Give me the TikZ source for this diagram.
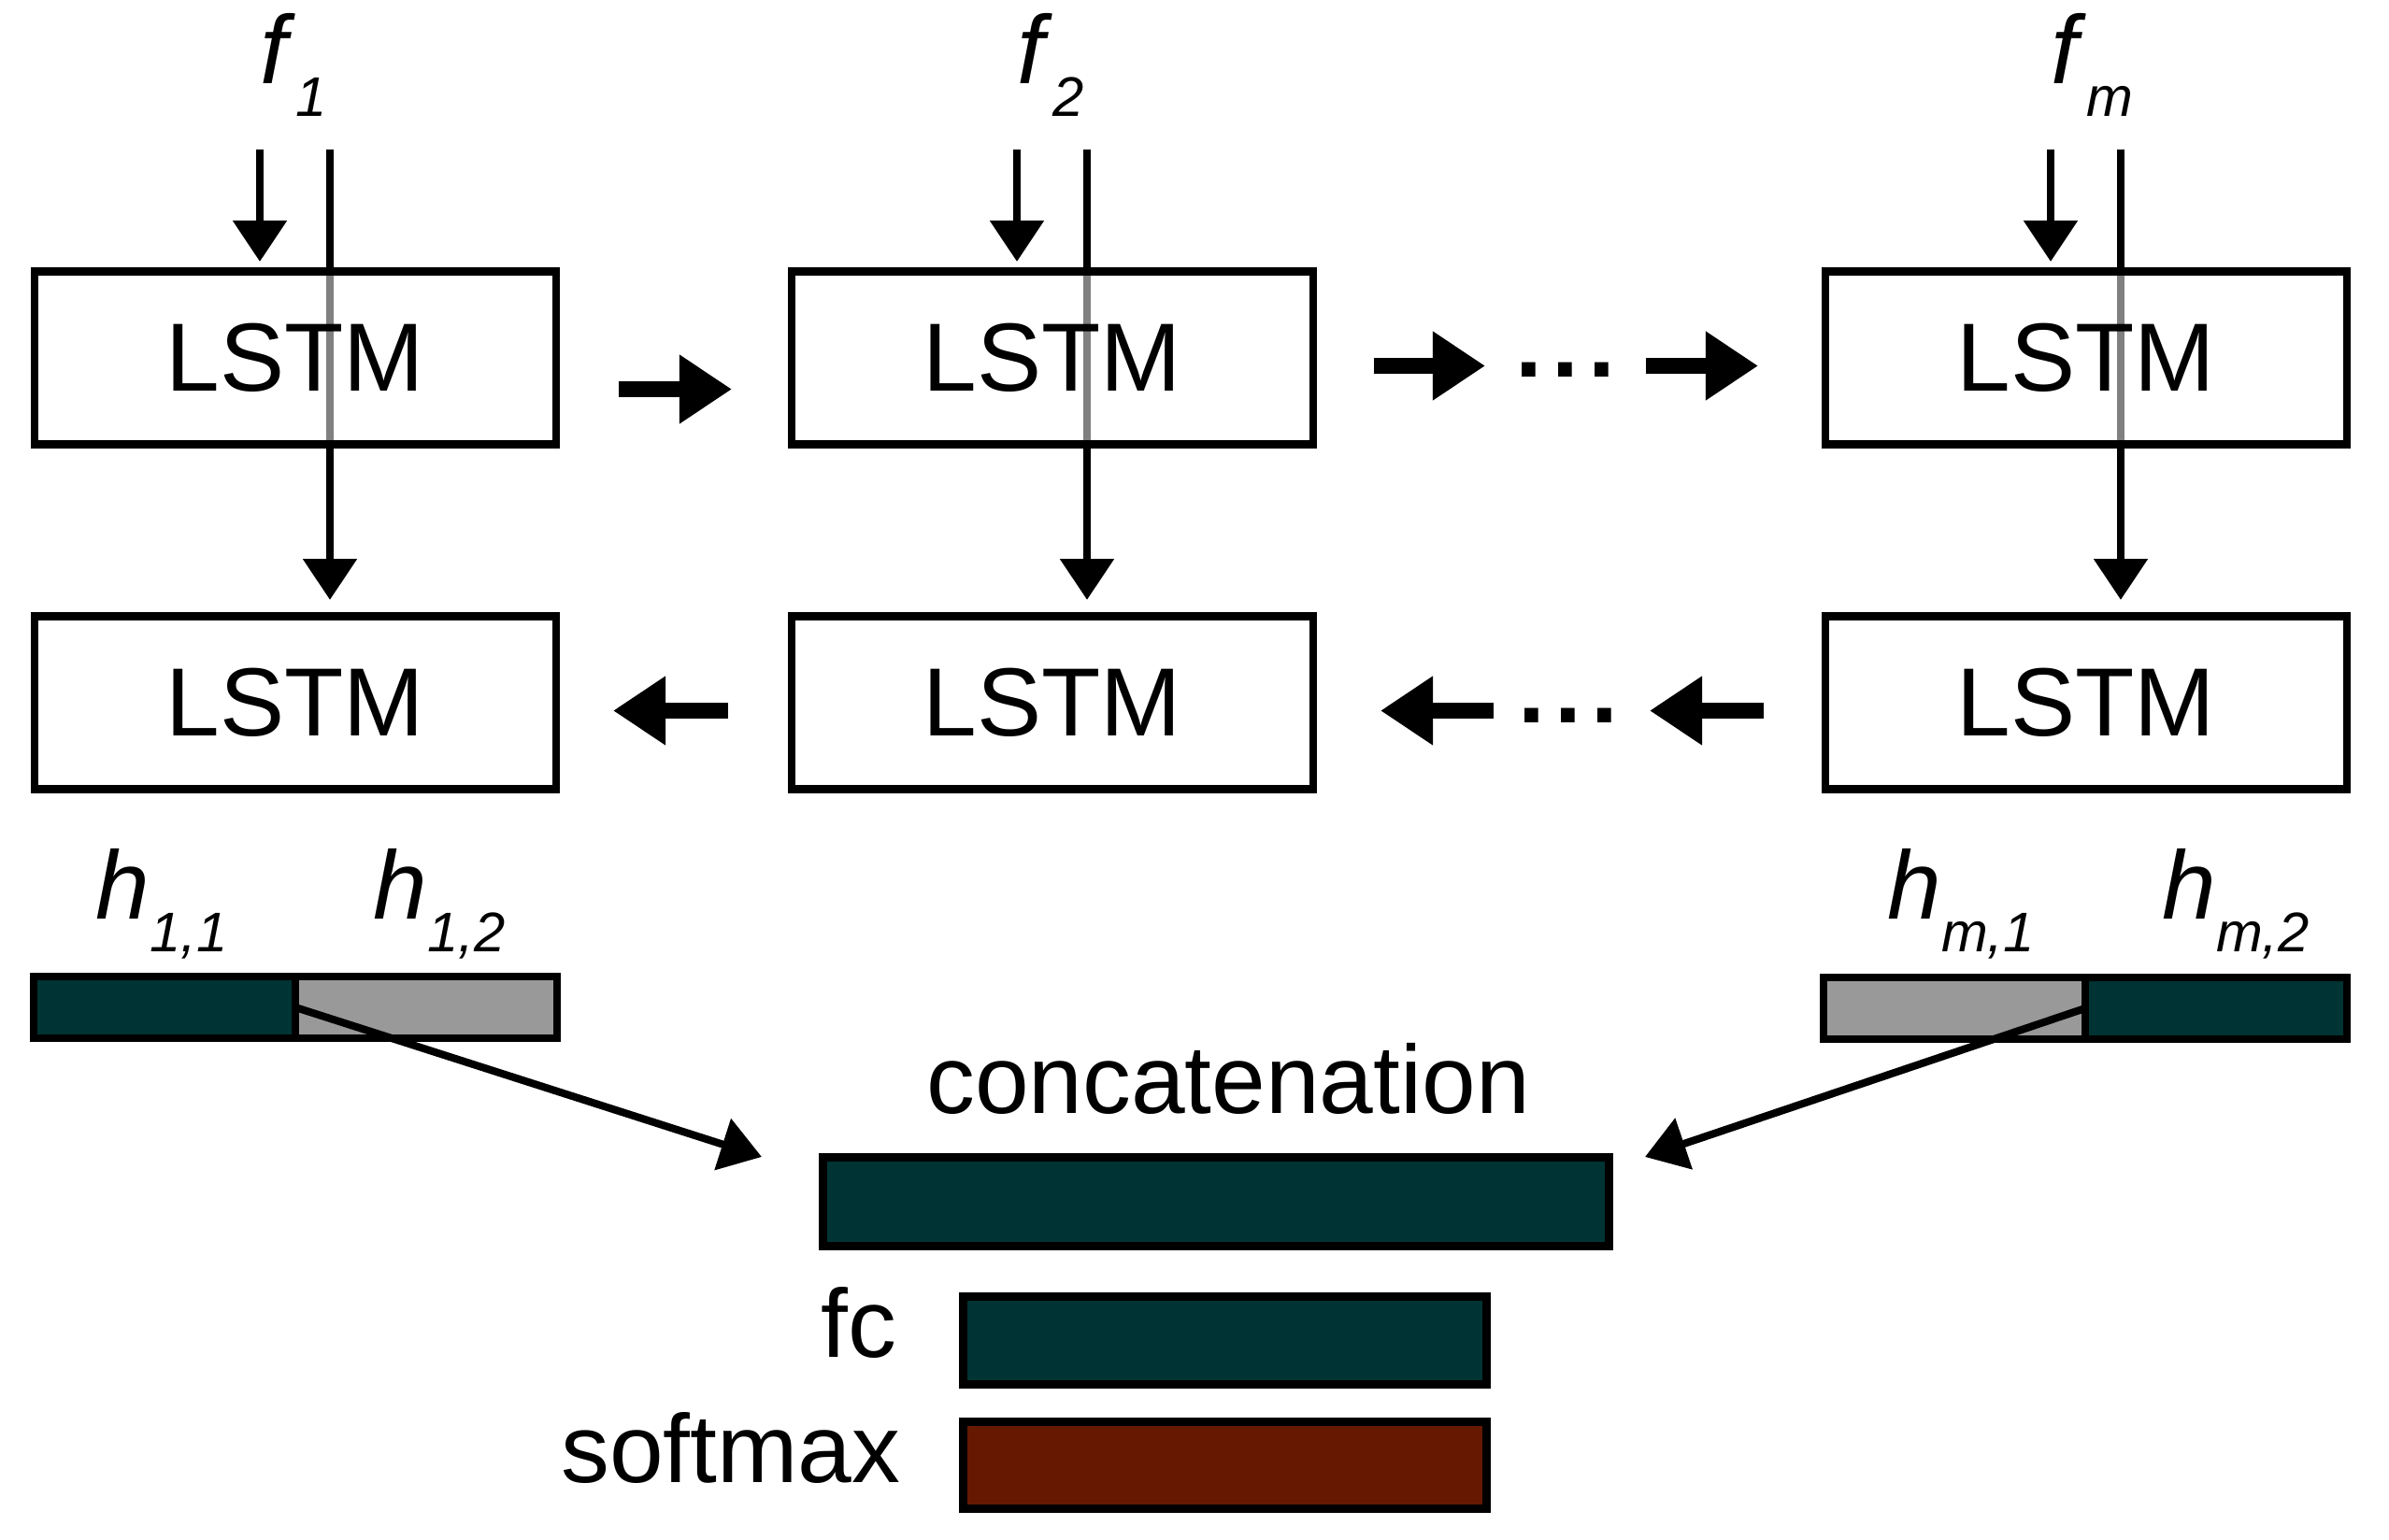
\documentclass[tikz,border=0pt]{standalone}
\usepackage{fontspec}
\setmainfont{Liberation Sans}
\usetikzlibrary{arrows.meta, calc}

\definecolor{cellteal}{RGB}{0,51,51}
\definecolor{cellgray}{RGB}{153,153,153}
\definecolor{cellred}{RGB}{102,24,0}
\newcommand{\sublbl}[2]{\textit{#1}\raisebox{-10pt}{\fontsize{17}{19}\selectfont\textit{#2}}}

\begin{document}
\begin{tikzpicture}[
  font=\fontsize{29.5}{35}\selectfont,
  lstm/.style={draw, line width=2.4pt, outer sep=0pt, inner sep=0pt,
    minimum width=5.58cm, minimum height=1.85cm},
  flow/.style={line width=2.3pt, -{Triangle[length=12.5pt, width=16pt]}},
  blk/.style={line width=5.1pt, -{Triangle[length=16pt, width=20pt]}},
  hbar/.style={draw, line width=2.4pt, outer sep=0pt, inner sep=0pt,
    minimum width=2.80cm, minimum height=0.66cm},
  vec/.style={draw, line width=2.4pt, outer sep=0pt, inner sep=0pt},
  dotsx/.style={anchor=base, inner sep=0pt, font=\fontsize{29.5}{35}\selectfont\bfseries},
]
  \useasboundingbox (0,0) rectangle (25.56,-16.48);

  % backward LSTM row
  \foreach \i/\x in {1/3.16, 2/11.26, m/22.32}
    \node[lstm] (bw\i) at (\x,-7.52) {LSTM};

  % skip line from the input down to the backward cell
  \foreach \i/\x in {1/3.16, 2/11.26, m/22.32} {
    \coordinate (in\i) at (\x-0.38,-1.60);
    \coordinate (skip\i) at (\x+0.37,-1.60);
    \draw[flow, shorten >=5pt] (skip\i) -- (skip\i |- bw\i.north);
  }

  % forward LSTM row (half white, so the skip line shows grey)
  \foreach \i/\x in {1/3.16, 2/11.26, m/22.32} {
    \node[lstm, fill=white, fill opacity=0.5, text opacity=1] (fw\i) at (\x,-3.83) {LSTM};
    \draw[flow, shorten >=3pt] (in\i) -- (in\i |- fw\i.north);
    \node[anchor=base west, inner sep=0pt] (f\i) at (\x-0.38,-0.89) {\sublbl{f}{\i}};
  }

  % forward direction
  \node[dotsx] (dots1) at (16.75,-4.03) {.\hspace{2.8pt}.\hspace{2.8pt}.};
  \draw[blk, shorten <=0.67cm, shorten >=0.64cm] ([yshift=-0.335cm]fw1.east) -- ([yshift=-0.335cm]fw2.west);
  \draw[blk, shorten <=0.65cm, shorten >=0.86cm] ([yshift=-0.085cm]fw2.east) -- ([yshift=-0.085cm]fw2.east -| dots1);
  \draw[blk, shorten <=0.86cm, shorten >=0.72cm] ([yshift=-0.085cm]fw2.east -| dots1) -- ([yshift=-0.085cm]fwm.west);

  % backward direction
  \node[dotsx] (dots2) at (16.78,-7.73) {.\hspace{2.8pt}.\hspace{2.8pt}.};
  \draw[blk, shorten <=0.68cm, shorten >=0.61cm] ([yshift=-0.085cm]bw2.west) -- ([yshift=-0.085cm]bw1.east);
  \draw[blk, shorten <=0.66cm, shorten >=0.87cm] ([yshift=-0.085cm]bwm.west) -- ([yshift=-0.085cm]bwm.west -| dots2);
  \draw[blk, shorten <=0.80cm, shorten >=0.72cm] ([yshift=-0.085cm]bwm.west -| dots2) -- ([yshift=-0.085cm]bw2.east);

  % hidden states
  \node[hbar, fill=cellteal, anchor=east] (h11) at (3.16,-10.78) {};
  \node[hbar, fill=cellgray, anchor=west] (h12) at (3.16,-10.78) {};
  \node[hbar, fill=cellgray, anchor=east] (hm1) at (22.31,-10.79) {};
  \node[hbar, fill=cellteal, anchor=west] (hm2) at (22.31,-10.79) {};
  \node[anchor=base] (lh11) at (1.73,-9.83) {\sublbl{h}{1,1}};
  \node[anchor=base] (lh12) at (4.70,-9.83) {\sublbl{h}{1,2}};
  \node[anchor=base] (lhm1) at (20.98,-9.83) {\sublbl{h}{m,1}};
  \node[anchor=base] (lhm2) at (23.92,-9.83) {\sublbl{h}{m,2}};

  % concatenation, fc, softmax
  \node[vec, fill=cellteal, minimum width=8.41cm, minimum height=0.95cm] (concat) at (13.01,-12.86) {};
  \node[anchor=base] (lconcat) at (13.14,-11.91) {concatenation};
  \node[vec, fill=cellteal, minimum width=5.60cm, minimum height=0.94cm] (fc) at (13.105,-14.345) {};
  \node[anchor=base east, inner sep=0pt] (lfc) at (9.60,-14.52) {fc};
  \node[vec, fill=cellred, minimum width=5.60cm, minimum height=0.93cm] (soft) at (13.105,-15.68) {};
  \node[anchor=base east, inner sep=0pt] (lsoft) at (9.64,-15.86) {softmax};

  \coordinate (cin1) at (8.15,-12.38);
  \coordinate (cinm) at (17.60,-12.38);
  \draw[flow] (h12.west) -- (cin1);
  \draw[flow] (hm1.east) -- (cinm);
\end{tikzpicture}
\end{document}
